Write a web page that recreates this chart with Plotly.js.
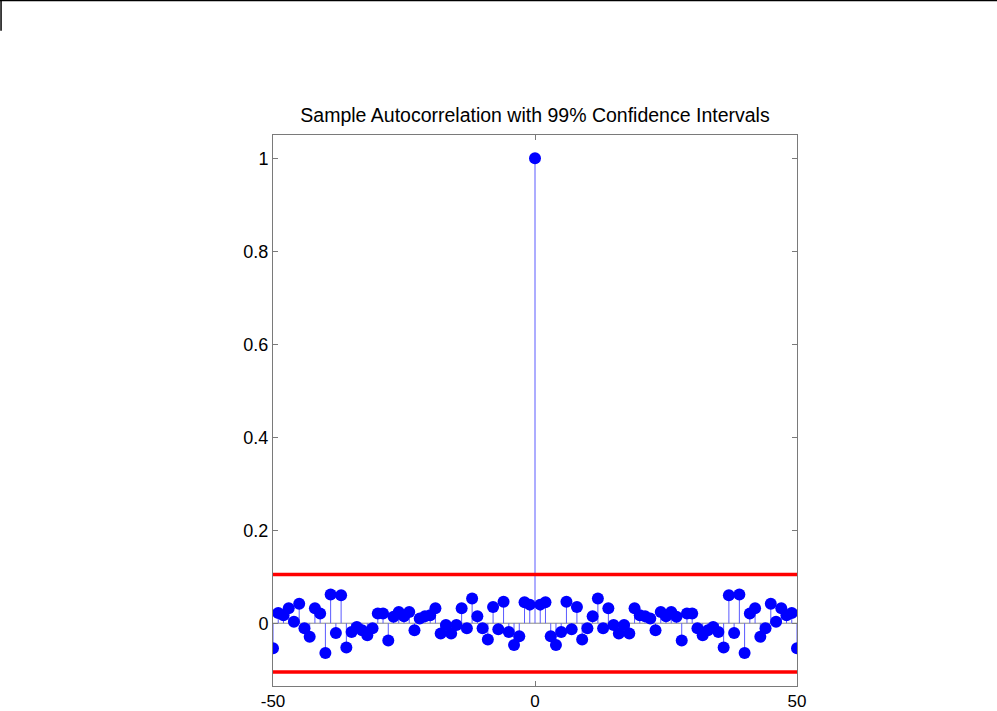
<!DOCTYPE html>
<html>
<head>
<meta charset="utf-8">
<script src="https://cdn.plot.ly/plotly-3.0.1.min.js"></script>
<style>
  html, body { margin: 0; padding: 0; background: #fff; }
  #chart { width: 997px; height: 711px; }
</style>
</head>
<body>
<div id="chart"></div>
<script>
// Sample autocorrelation for lags 0..50 (symmetric about lag 0)
const posLags = [0,1,2,3,4,5,6,7,8,9,10,11,12,13,14,15,16,17,18,19,20,21,22,23,24,25,26,27,28,29,30,31,32,33,34,35,36,37,38,39,40,41,42,43,44,45,46,47,48,49,50];
const posAcf = [1.0,0.040,0.045,-0.028,-0.047,-0.019,0.046,-0.013,0.035,-0.035,-0.011,0.015,0.053,-0.011,0.032,-0.004,-0.022,-0.004,-0.022,0.032,0.017,0.015,0.010,-0.015,0.024,0.015,0.024,0.014,-0.037,0.021,0.021,-0.011,-0.026,-0.015,-0.008,-0.019,-0.052,0.060,-0.021,0.062,-0.064,0.021,0.032,-0.029,-0.011,0.042,0.003,0.032,0.017,0.022,-0.054];
const confBound = 0.105;
const xTicks = [-50, 0, 50];
const yTicks = [0, 0.2, 0.4, 0.6, 0.8, 1];
const yTickText = ["0", "0.2", "0.4", "0.6", "0.8", "1"];
const titleText = "Sample Autocorrelation with 99% Confidence Intervals";

// Build full lag range -50..50 from the symmetric half
const lags = [];
const acf = [];
for (let i = posLags.length - 1; i >= 1; i--) { lags.push(-posLags[i]); acf.push(posAcf[i]); }
for (let i = 0; i < posLags.length; i++) { lags.push(posLags[i]); acf.push(posAcf[i]); }

// stems
const stemX = [], stemY = [];
for (let i = 0; i < lags.length; i++) {
  stemX.push(lags[i], lags[i], null);
  stemY.push(0, acf[i], null);
}

const xMin = lags[0], xMax = lags[lags.length - 1];

const traces = [
  { x: [xMin, xMax], y: [0, 0], mode: 'lines', line: { color: '#8a8a8a', width: 1 }, hoverinfo: 'skip' },
  { x: stemX, y: stemY, mode: 'lines', line: { color: '#5a5aff', width: 1 }, hoverinfo: 'skip' },
  { x: lags, y: acf, mode: 'markers', marker: { color: '#0000ff', size: 12, line: { width: 0 } } },
  { x: [xMin, xMax], y: [confBound, confBound], mode: 'lines', line: { color: '#ff0000', width: 3.5 } },
  { x: [xMin, xMax], y: [-confBound, -confBound], mode: 'lines', line: { color: '#ff0000', width: 3.5 } }
];

const axisCommon = {
  showgrid: false,
  zeroline: false,
  showline: true,
  linecolor: '#7a7a7a',
  linewidth: 1,
  mirror: 'allticks',
  ticks: 'inside',
  ticklen: 5,
  tickcolor: '#7a7a7a'
};

const layout = {
  width: 997,
  height: 711,
  paper_bgcolor: '#fff',
  plot_bgcolor: '#fff',
  showlegend: false,
  margin: { l: 273, r: 200, t: 135, b: 25 },
  title: {
    text: titleText,
    font: { family: 'Liberation Sans, Arial, sans-serif', size: 19.5, color: '#000' },
    x: 0.5, xref: 'paper', xanchor: 'center',
    y: 1, yref: 'paper', yanchor: 'bottom', pad: { b: 13 }
  },
  xaxis: Object.assign({}, axisCommon, {
    range: [xMin, xMax],
    tickvals: xTicks,
    ticktext: xTicks.map(String),
    tickfont: { family: 'Liberation Sans, Arial, sans-serif', size: 17, color: '#000' }
  }),
  yaxis: Object.assign({}, axisCommon, {
    range: [-0.135, 1.05],
    tickvals: yTicks,
    ticktext: yTickText,
    tickfont: { family: 'Liberation Sans, Arial, sans-serif', size: 18, color: '#000' }
  }),
  shapes: [
    { type: 'line', xref: 'paper', yref: 'paper', x0: -0.521, x1: 1.382, y0: 1.244, y1: 1.244, line: { color: '#000', width: 1.5 } },
    { type: 'line', xref: 'paper', yref: 'paper', x0: -0.519, x1: -0.519, y0: 1.245, y1: 1.189, line: { color: '#000', width: 1.5 } }
  ]
};

Plotly.newPlot('chart', traces, layout, { staticPlot: true, displayModeBar: false });
</script>
</body>
</html>
